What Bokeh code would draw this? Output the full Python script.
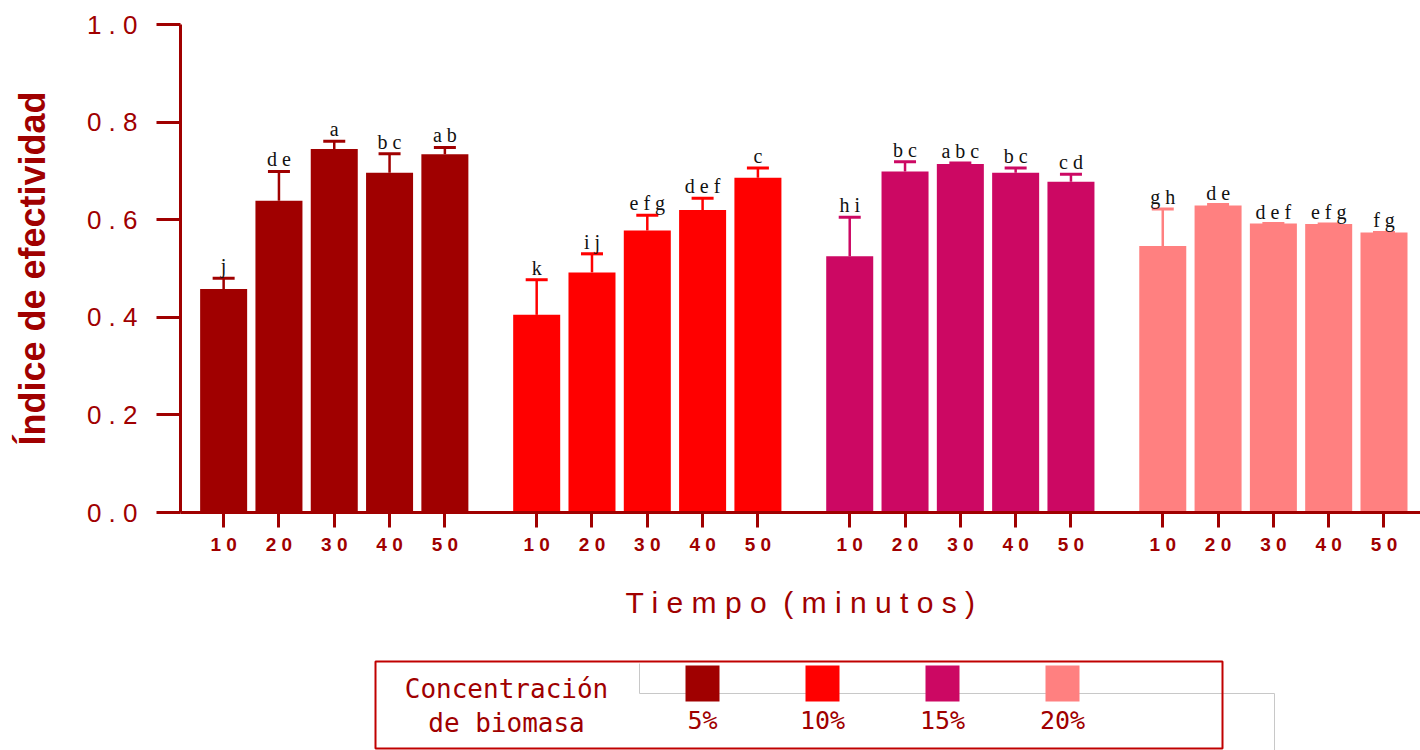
from bokeh.plotting import figure
from bokeh.models import (ColumnDataSource, Range1d, FixedTicker, Whisker, TeeHead,
                          CustomJSTickFormatter)
from bokeh.layouts import column
from bokeh.embed import file_html
from bokeh.resources import INLINE
from bokeh.core.properties import value

# ---------------- data ----------------
times = ["10", "20", "30", "40", "50"]
concentrations = ["5%", "10%", "15%", "20%"]
colors = ["#A00000", "#FF0000", "#CC0863", "#FF8080"]

mean_5 = [0.458, 0.639, 0.745, 0.696, 0.734]
sd_5 = [0.022, 0.060, 0.016, 0.039, 0.014]
letters_5 = ["j", "d e", "a", "b c", "a b"]

mean_10 = [0.405, 0.492, 0.578, 0.620, 0.686]
sd_10 = [0.072, 0.038, 0.031, 0.024, 0.020]
letters_10 = ["k", "i j", "e f g", "d e f", "c"]

mean_15 = [0.525, 0.699, 0.714, 0.696, 0.678]
sd_15 = [0.080, 0.020, 0.002, 0.010, 0.015]
letters_15 = ["h i", "b c", "a b c", "b c", "c d"]

mean_20 = [0.546, 0.629, 0.592, 0.591, 0.574]
sd_20 = [0.076, 0.002, 0.0, 0.0, 0.0]
letters_20 = ["g h", "d e", "d e f", "e f g", "f g"]

y_ticks = [0.0, 0.2, 0.4, 0.6, 0.8, 1.0]

legend_title = ["Concentración", "de biomasa"]
y_title = "Índice de efectividad"
x_title = "T i e m p o \u00a0( m i n u t o s )"

# ---------------- layout constants ----------------
means = [mean_5, mean_10, mean_15, mean_20]
sds = [sd_5, sd_10, sd_15, sd_20]
letters = [letters_5, letters_10, letters_15, letters_20]

AXIS = "#A00000"
BAR_STEP = 50
GROUP_STEP = 283
BAR_W = 42.5

p = figure(width=1420, height=650,
           x_range=Range1d(-39, 1082), y_range=Range1d(0, 1.0),
           output_backend="svg", toolbar_location=None,
           min_border_left=180, min_border_right=0,
           min_border_top=24, min_border_bottom=138)
p.grid.visible = False
p.outline_line_color = None
p.background_fill_color = "white"
p.border_fill_color = "white"

tick_pos = []
tick_lab = {}
for g, conc in enumerate(concentrations):
    xs = [g * GROUP_STEP + i * BAR_STEP for i in range(len(times))]
    upper = [m + s for m, s in zip(means[g], sds[g])]
    src = ColumnDataSource(dict(x=xs, top=means[g], upper=upper, lab=letters[g]))
    p.vbar(x="x", top="top", width=BAR_W, source=src,
           fill_color=colors[g], line_color=None)
    w = Whisker(source=src, base="x", upper="upper", lower="top", dimension="height",
                line_color=colors[g], line_width=2.5,
                upper_head=TeeHead(size=22, line_color=colors[g], line_width=3),
                lower_head=None)
    p.add_layout(w)
    p.text(x="x", y="upper", text="lab", source=src,
           text_align="center", text_baseline="alphabetic", y_offset=-12,
           text_font=value("Liberation Serif"), text_font_size="20px",
           text_color="#111111")
    for x, t in zip(xs, times):
        tick_pos.append(x)
        tick_lab[x] = " ".join(t)

# y axis
ya = p.yaxis[0]
ya.ticker = FixedTicker(ticks=y_ticks)
ya.formatter = CustomJSTickFormatter(code="return tick.toFixed(1).split('').join(' ');")
ya.axis_line_color = AXIS
ya.axis_line_width = 3
ya.major_tick_line_color = AXIS
ya.major_tick_line_width = 3
ya.major_tick_out = 24
ya.major_tick_in = 0
ya.minor_tick_line_color = None
ya.major_label_standoff = 19
ya.major_label_text_font = "Liberation Sans"
ya.major_label_text_font_size = "26px"
ya.major_label_text_color = AXIS
ya.axis_label = y_title
ya.axis_label_text_font = "Liberation Sans"
ya.axis_label_text_font_size = "36px"
ya.axis_label_text_font_style = "bold"
ya.axis_label_text_color = AXIS
ya.axis_label_standoff = 31

# x axis
xa = p.xaxis[0]
xa.ticker = FixedTicker(ticks=tick_pos)
xa.major_label_overrides = tick_lab
xa.axis_line_color = AXIS
xa.axis_line_width = 3
xa.major_tick_line_color = AXIS
xa.major_tick_line_width = 3
xa.major_tick_out = 15
xa.major_tick_in = 0
xa.minor_tick_line_color = None
xa.major_label_standoff = 6
xa.major_label_text_font = "Liberation Sans"
xa.major_label_text_font_size = "19px"
xa.major_label_text_font_style = "bold"
xa.major_label_text_color = AXIS
xa.axis_label = x_title
xa.axis_label_text_font = "Liberation Sans"
xa.axis_label_text_font_size = "30px"
xa.axis_label_text_font_style = "normal"
xa.axis_label_text_color = AXIS
xa.axis_label_standoff = 28

# ---------------- legend panel ----------------
# the column aligns this frame with the chart frame (x from 180 to 1420 px)
leg = figure(width=1420, height=100, x_range=Range1d(180, 1420), y_range=Range1d(0, 100),
             output_backend="svg", toolbar_location=None, min_border=0)
leg.axis.visible = False
leg.grid.visible = False
leg.outline_line_color = None
leg.background_fill_color = "white"
leg.border_fill_color = "white"

leg.line([639, 639, 1274, 1274], [87, 57, 57, 0], line_color="#C8C8C8", line_width=1)
leg.quad(left=375, right=1222, top=89, bottom=2, fill_color=None,
         line_color="#C00000", line_width=2)
leg.text(x=[506, 506], y=[62, 28], text=legend_title, text_align="center",
         text_baseline="alphabetic", text_font=value("DejaVu Sans Mono"),
         text_font_size="26px", text_color=AXIS)
lx = [702 + i * 120 for i in range(len(concentrations))]
leg.rect(x=lx, y=[67] * len(lx), width=34, height=36, fill_color=colors, line_color=None)
leg.text(x=lx, y=[30] * len(lx), text=concentrations, text_align="center",
         text_baseline="alphabetic", text_font=value("DejaVu Sans Mono"),
         text_font_size="25px", text_color=AXIS)

layout = column(p, leg, spacing=0)
open("out.html", "w").write(file_html(layout, INLINE))
